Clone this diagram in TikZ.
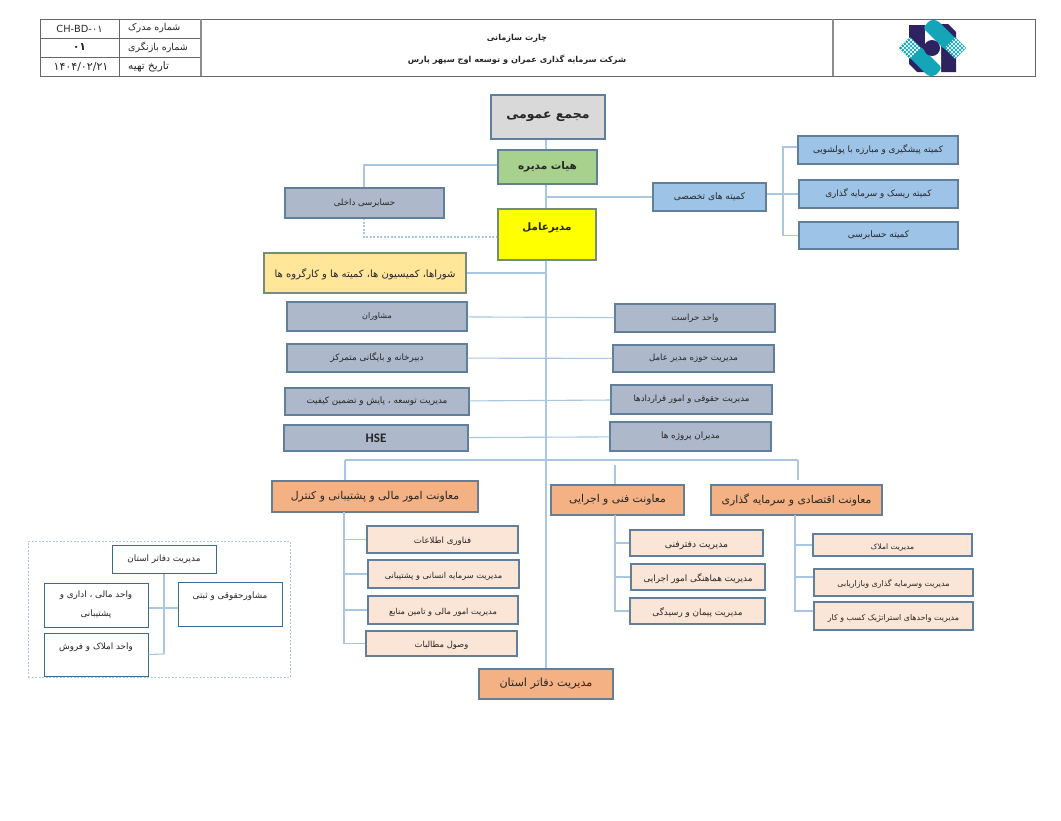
\documentclass[tikz,border=0pt]{standalone}
\usepackage{fontspec}
\newfontfamily\arabicfont[Script=Arabic]{DejaVu Sans}
\newfontfamily\hsefont{Carlito}
\TeXXeTstate=1
\newcommand\fa[1]{\beginR #1\endR}
\definecolor{edge}{HTML}{5F7F9C}
\definecolor{wire}{HTML}{A9C6E2}
\definecolor{teal}{HTML}{14A6B8}
\definecolor{plum}{HTML}{2F2260}
\definecolor{slatefill}{HTML}{ADB9CA}
\definecolor{skyfill}{HTML}{9DC3E6}
\definecolor{peachfill}{HTML}{FBE5D6}
\definecolor{orangefill}{HTML}{F4B183}
\definecolor{greenfill}{HTML}{A9D18E}
\definecolor{creamfill}{HTML}{FFE699}
\definecolor{ceofill}{HTML}{FFFF00}
\definecolor{greyfill}{HTML}{D9D9D9}
\definecolor{oliveedge}{HTML}{748C7C}
\definecolor{branchedge}{HTML}{3A6A94}
\begin{document}
\begin{tikzpicture}[x=1pt,y=-1pt,
    fs/.style={font=\arabicfont\fontsize{#1}{13}\selectfont},
    fsb/.style={font=\arabicfont\bfseries\fontsize{#1}{13}\selectfont},
    plain/.style={inner sep=0pt,align=center,text=black!85},
    cell/.style={plain,fs=9.5},
    box/.style={plain,draw=edge,line width=1.1pt,fs=8.8},
    low/.style={text height=8pt,text depth=0pt},
    slate/.style={box,fill=slatefill},
    sky/.style={box,fill=skyfill},
    peach/.style={box,low,fill=peachfill,fs=8.2},
    orange/.style={box,fill=orangefill,fs=10.8},
    branch/.style={box,fill=white,draw=branchedge,line width=1pt,fs=8.8},
    wired/.style={draw=wire,line width=1.1pt}]
\useasboundingbox (0,0) rectangle (1061,820);
\draw[black!60,line width=.8pt] (40,19) rectangle (1035,76);
\draw[black!60,line width=.8pt] (40,38) -- (201,38) (40,57) -- (201,57) (119,19) -- (119,76);
\draw[black!45,line width=1.2pt] (201,19) -- (201,76) (833,19) -- (833,76);
\node[cell,fs=9.8] (docid) at (79.5,28.5) {\beginL CH-BD-۰۱\endL};
\node[cell,anchor=west] (doclabel) at (128,28.5) {\fa{شماره مدرک}};
\node[cell,fsb=11] (revid) at (79.5,47.5) {\beginL ۰۱\endL};
\node[cell,anchor=west] (revlabel) at (128,47.5) {\fa{شماره بازنگری}};
\node[cell,fs=11] (dateid) at (81,66.5) {\beginL ۱۴۰۴/۰۲/۲۱\endL};
\node[cell,anchor=west,fs=10.5] (datelabel) at (128,66.5) {\fa{تاریخ تهیه}};
\node[plain,fsb=8.2] (title) at (517,38) {\fa{چارت سازمانی}};
\node[plain,fsb=8.2] (company) at (517,59.5) {\fa{شرکت سرمایه گذاری عمران و توسعه اوج سپهر پارس}};
\fill[plum] (909,25) -- (925,25) -- (925,72) -- (917,72) -- (909,64) -- cycle;
\fill[plum] (941,72) -- (956,72) -- (956,32) -- (948,24) -- (941,24) -- cycle;
\fill[white] (925,24) -- (941,42) -- (941,72) -- (925,54) -- cycle;
\fill[teal,rounded corners=3pt] (923,28) -- (930,20) -- (937,20) -- (959,42) -- (945,50) -- cycle;
\fill[teal,rounded corners=3pt] (942,68) -- (935,76) -- (928,76) -- (906,54) -- (920,46) -- cycle;
\fill[plum] (932,48) circle (8);
\foreach \cx in {910,955} {
  \fill[teal] (\cx-11,48) -- (\cx,37) -- (\cx+11,48) -- (\cx,59) -- cycle;
  \foreach \off in {2,4,6,8,10} {
    \draw[white,line width=.5pt] (\cx-11+\off,48+\off) -- ++(11,-11);
    \draw[white,line width=.5pt] (\cx-11+\off,48-\off) -- ++(11,11);
  }
}
\coordinate (topline) at (546,117);
\coordinate (botline) at (546,669);
\coordinate (auditup) at (364,188);
\coordinate (auditdown) at (364,218);
\coordinate (boardleft) at (498,165);
\coordinate (ceoleft) at (498,237);
\coordinate (special) at (546,197);
\coordinate (fork) at (783,194);
\coordinate (councilhit) at (546,273);
\coordinate (busleft) at (345,460);
\coordinate (busright) at (798,460);
\coordinate (techtop) at (615,465);
\coordinate (finspine) at (344,512);
\coordinate (techspine) at (615,515);
\coordinate (econspine) at (795,515);
\draw[wired] (topline) -- (botline);
\draw[wired] (boardleft) -| (auditup);
\draw[wired,dash pattern=on 2pt off 1.5pt] (auditdown) |- (ceoleft);
\draw[wired] (special) -- (653,197);
\draw[wired] (councilhit) -- (466,273);
\draw[wired] (busleft) -- (busright);
\node[box,fill=greyfill,fsb=12.5] (assembly) at (548,117) [minimum width=114pt,minimum height=44pt] {\fa{مجمع عمومی}};
\node[box,fill=greenfill,fsb=10.5] (board) at (547.5,167) [minimum width=99pt,minimum height=34pt] {\fa{هیات مدیره}};
\node[box,fill=ceofill,draw=oliveedge,fsb=10.3] (ceo) at (547,234.5) [minimum width=98pt,minimum height=51pt] {\fa{مدیرعامل}\\[2pt]};
\node[slate,fs=8.6] (audit) at (364.5,203) [minimum width=159pt,minimum height=30pt] {\fa{حسابرسی داخلی}};
\node[box,low,fill=creamfill,draw=oliveedge,fs=10] (council) at (365,273) [minimum width=202pt,minimum height=40pt] {\fa{شوراها، کمیسیون ها، کمیته ها و کارگروه ها}};
\node[sky,fs=9] (committee) at (709.5,197) [minimum width=113pt,minimum height=28pt] {\fa{کمیته های تخصصی}};
\node[sky] (launder) at (878,150) [minimum width=160pt,minimum height=28pt] {\fa{کمیته پیشگیری و مبارزه با پولشویی}};
\node[sky] (risk) at (878.5,194) [minimum width=159pt,minimum height=28pt] {\fa{کمیته ریسک و سرمایه گذاری}};
\node[sky,fs=9] (auditcom) at (878.5,235.5) [minimum width=159pt,minimum height=27pt] {\fa{کمیته حسابرسی}};
\draw[wired] ([yshift=3pt]committee.east) -- (risk.west);
\draw[wired] ([yshift=3pt]launder.west) -| (fork) |- (auditcom.west);
\node[slate,fs=8] (advisor) at (377,316.5) [minimum width=180pt,minimum height=29pt] {\fa{مشاوران}};
\node[slate] (secretariat) at (377,358) [minimum width=180pt,minimum height=28pt] {\fa{دبیرخانه و بایگانی متمرکز}};
\node[slate] (quality) at (377,401.5) [minimum width=184pt,minimum height=27pt] {\fa{مدیریت توسعه ، پایش و تضمین کیفیت}};
\node[slate,font=\hsefont\bfseries\fontsize{13}{15}\selectfont] (hse) at (376,438) [minimum width=184pt,minimum height=26pt] {HSE};
\node[slate,fs=8.6] (guard) at (695,318) [minimum width=160pt,minimum height=28pt] {\fa{واحد حراست}};
\node[slate,fs=8.6] (office) at (693.5,358.5) [minimum width=161pt,minimum height=27pt] {\fa{مدیریت حوزه مدیر عامل}};
\node[slate,fs=8.6] (legal) at (691.5,399.5) [minimum width=161pt,minimum height=29pt] {\fa{مدیریت حقوقی و امور قراردادها}};
\node[slate] (projects) at (690.5,436.5) [minimum width=161pt,minimum height=29pt] {\fa{مدیران پروژه ها}};
\draw[wired] (advisor) -- (guard);
\draw[wired] (secretariat) -- (office);
\draw[wired] (quality) -- (legal);
\draw[wired] (hse) -- (projects);
\node[orange] (finance) at (375,496.5) [minimum width=206pt,minimum height=31pt] {\fa{معاونت امور مالی و پشتیبانی و کنترل}};
\node[orange] (tech) at (617.5,500) [minimum width=133pt,minimum height=30pt] {\fa{معاونت  فنی و اجرایی}};
\node[orange] (econ) at (796.5,500) [minimum width=171pt,minimum height=30pt] {\fa{معاونت اقتصادی و سرمایه گذاری}};
\draw[wired] (busleft) -- (busleft |- finance.north);
\draw[wired] (techtop) -- (tech.north -| techtop);
\draw[wired,shorten >=4pt] (busright) -- (busright |- econ.north);
\node[peach,fs=8.6] (finone) at (442.5,539.5) [minimum width=151pt,minimum height=27pt] {\fa{فناوری اطلاعات}};
\node[peach] (fintwo) at (443.5,574) [minimum width=151pt,minimum height=28pt] {\fa{مدیریت سرمایه انسانی و پشتیبانی}};
\node[peach] (finthree) at (443,610) [minimum width=150pt,minimum height=28pt] {\fa{مدیریت امور مالی و تامین منابع}};
\node[peach,fs=8.4] (finfour) at (441.5,643.5) [minimum width=151pt,minimum height=25pt] {\fa{وصول مطالبات}};
\draw[wired] (finspine) |- (finfour.west);
\foreach \sub in {finone,fintwo,finthree} \draw[wired] (finspine |- \sub.west) -- (\sub.west);
\node[peach,fs=9.2] (techone) at (696.5,543) [minimum width=133pt,minimum height=26pt] {\fa{مدیریت دفترفنی}};
\node[peach,fs=8.8] (techtwo) at (698,577) [minimum width=134pt,minimum height=26pt] {\fa{مدیریت هماهنگی امور اجرایی}};
\node[peach,fs=8.8] (techthree) at (697.5,611) [minimum width=135pt,minimum height=26pt] {\fa{مدیریت پیمان و رسیدگی}};
\draw[wired] (techspine) |- (techthree.west);
\foreach \sub in {techone,techtwo} \draw[wired] (techspine |- \sub.west) -- (\sub.west);
\node[peach,fs=7.5] (econone) at (892.5,545) [minimum width=159pt,minimum height=22pt] {\fa{مدیریت املاک}};
\node[peach,fs=7.9] (econtwo) at (893.5,582.5) [minimum width=159pt,minimum height=27pt] {\fa{مدیریت وسرمایه گذاری وبازاریابی}};
\node[peach,fs=7.9] (econthree) at (893.5,616) [minimum width=159pt,minimum height=28pt] {\fa{مدیریت واحدهای استراتژیک کسب و کار}};
\draw[wired] (econspine) |- ([yshift=5pt]econthree.west);
\draw[wired] (econspine |- econone.west) -- (econone.west);
\draw[wired] ([yshift=5.5pt]econtwo.west -| econspine) -- ([yshift=5.5pt]econtwo.west);
\node[orange,fs=11.2] (province) at (546,684) [minimum width=134pt,minimum height=30pt] {\fa{مدیریت دفاتر استان}};
\node[draw=wire,dash pattern=on 2pt off 1.5pt,line width=.8pt,inner sep=0pt] (frame) at (159,609) [minimum width=262pt,minimum height=136pt] {};
\coordinate (branchend) at (164,654);
\draw[wired] (164,573) -- (branchend);
\node[branch] (branchhead) at (164,559) [minimum width=104pt,minimum height=28pt] {\fa{مدیریت دفاتر استان}};
\node[branch] (branchfin) at (96,605) [minimum width=104pt,minimum height=44pt] {\fa{واحد مالی ، اداری و}\\[6pt]\fa{پشتیبانی}};
\node[branch] (branchlaw) at (230,604) [minimum width=104pt,minimum height=44pt] {\fa{مشاورحقوقی و ثبتی}\\[4pt]};
\node[branch] (branchsale) at (96,654.5) [minimum width=104pt,minimum height=43pt] {\fa{واحد املاک و فروش}\\[4pt]};
\draw[wired] ([yshift=-3pt]branchfin.east) -- ([yshift=-4pt]branchlaw.west);
\draw[wired] (branchsale.east) -- (branchend);
\end{tikzpicture}
\end{document}
